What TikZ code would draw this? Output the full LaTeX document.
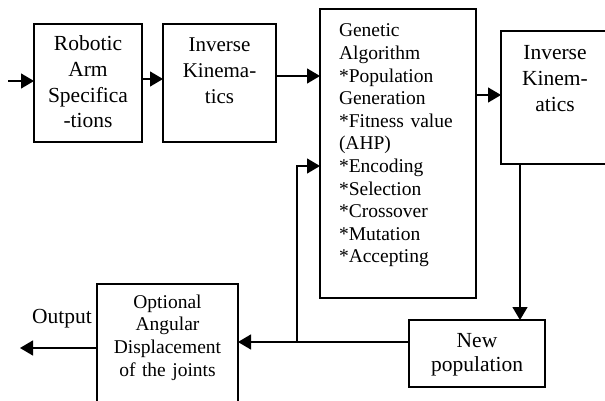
\documentclass[tikz,border=0pt]{standalone}
\usepackage{fontspec}
\setmainfont{Liberation Serif}
\usetikzlibrary{arrows.meta,calc}
\begin{document}
\begin{tikzpicture}[x=1pt,y=-1pt,
  blk/.style={draw,line width=1.5pt,anchor=north west,inner sep=0pt,outer sep=0pt},
  txt/.style={inner sep=0pt,outer sep=0pt,anchor=base,align=center},
  arr/.style={line width=1.3pt,-{Triangle[length=13pt,width=15pt]}},
  lin/.style={line width=1.3pt}]
\useasboundingbox (0,0) rectangle (605,401);
\clip (0,0) rectangle (605,401);
% boxes
\node[blk,minimum width=108pt,minimum height=118pt] (b1) at (34,24) {};
\node[blk,minimum width=113pt,minimum height=118pt] (b2) at (163,24) {};
\node[blk,minimum width=156pt,minimum height=289pt] (ga) at (320,9) {};
\node[blk,minimum width=110pt,minimum height=133pt] (ik) at (501,31) {};
\node[blk,minimum width=136pt,minimum height=67pt] (np) at (409,320) {};
\node[blk,minimum width=141pt,minimum height=130pt] (opt) at (97,284) {};
% texts
\node[txt,text width=108pt,font=\fontsize{21.5}{25.6}\selectfont] (t1) at (88,51) {Robotic\\Arm\\Specifica\\-tions};
\node[txt,text width=113pt,font=\fontsize{21}{25.7}\selectfont] (t2) at (219.5,52) {Inverse\\Kinema-\\tics};
\node[txt,anchor=base west,align=left,text width=140pt,font=\fontsize{19.5}{22.6}\selectfont] (tg) at (339,37) {Genetic\\Algorithm\\{}*Population\\Generation\\{}*Fitness value\\(AHP)\\{}*Encoding\\{}*Selection\\{}*Crossover\\{}*Mutation\\{}*Accepting};
\node[txt,text width=108pt,font=\fontsize{21.5}{25.7}\selectfont] (ti) at (555,60) {Inverse\\Kinem-\\atics};
\node[txt,text width=136pt,font=\fontsize{21.5}{24.5}\selectfont] (tn) at (477,347) {New\\population};
\node[txt,text width=141pt,font=\fontsize{19.5}{22.7}\selectfont] (to) at (167.5,308) {Optional\\Angular\\Displacement\\of the joints};
\node[txt,font=\fontsize{21.5}{25}\selectfont] (tout) at (62,323) {Output};
% connectors
\coordinate (start) at (8,81);
\draw[arr] (start) -- (start -| b1.west);
\coordinate (r12) at (0,79);
\draw[arr] (b1.east |- r12) -- (b2.west |- r12);
\coordinate (r2g) at (0,76);
\draw[arr] (b2.east |- r2g) -- (ga.west |- r2g);
\coordinate (rgi) at (0,95);
\draw[arr] (ga.east |- rgi) -- (ik.west |- rgi);
\coordinate (cdown) at (520,0);
\draw[arr] (ik.south -| cdown) -- (np.north -| cdown);
\coordinate (rnp) at (0,342);
\draw[arr] (np.west |- rnp) -- (opt.east |- rnp);
\coordinate (jx) at (297,342);
\coordinate (rfb) at (0,166);
\draw[arr] (jx) -- (jx |- rfb) -- (ga.west |- rfb);
\coordinate (rout) at (0,348);
\coordinate (outend) at (20,348);
\draw[arr] (opt.west |- rout) -- (outend);
\end{tikzpicture}
\end{document}
